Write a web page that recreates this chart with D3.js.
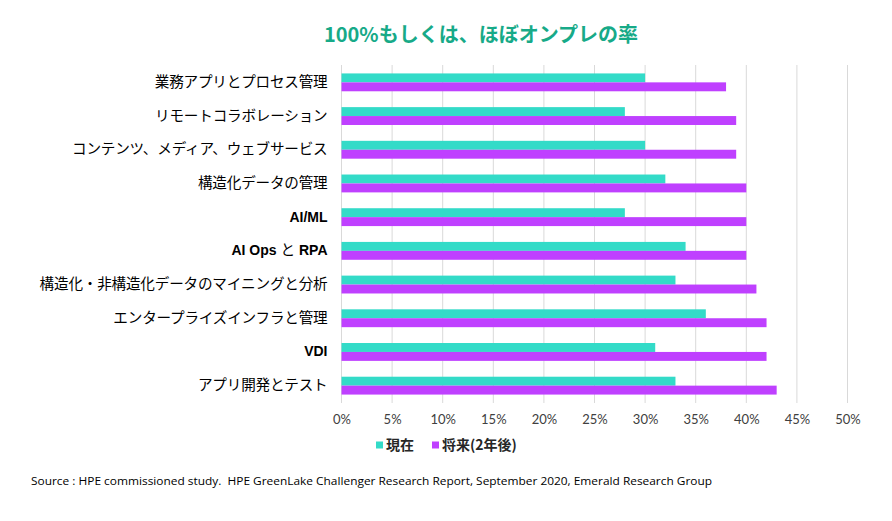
<!DOCTYPE html>
<html><head><meta charset="utf-8">
<script src="https://cdn.jsdelivr.net/npm/d3@7"></script>
<style>body{margin:0;background:#fff}</style>
</head><body>
<svg id="c" width="892" height="521"></svg>
<script>
const categories = ["業務アプリとプロセス管理","リモートコラボレーション","コンテンツ、メディア、ウェブサービス","構造化データの管理","AI/ML","AI Ops と RPA","構造化・非構造化データのマイニングと分析","エンタープライズインフラと管理","VDI","アプリ開発とテスト"];
const current = [30,28,30,32,28,34,33,36,31,33];
const future = [38,39,39,40,40,40,41,42,42,43];
const seriesNames = ["現在","将来(2年後)"];
const colors = ["#33DBC8","#BF40FF"];
const xTicks = [0,5,10,15,20,25,30,35,40,45,50];
const boldLatin = new Set(["AI/ML","VDI"]);

const svg = d3.select("#c");
const m = {left:341.5, right:847.5, top:65, bottom:403};
const x = d3.scaleLinear().domain([0,50]).range([m.left,m.right]);
const y = d3.scaleBand().domain(categories).range([m.top,m.bottom]).paddingInner(0.47).paddingOuter(0.25);
const sub = d3.scaleBand().domain([0,1]).range([0,y.bandwidth()]);

// grid
svg.append("g").selectAll("line").data(xTicks).join("line")
  .attr("x1",d=>x(d)).attr("x2",d=>x(d)).attr("y1",m.top).attr("y2",m.bottom)
  .attr("stroke","#d9d9d9").attr("stroke-width",1);

// x axis labels
const xAxis = d3.axisBottom(x).tickValues(xTicks).tickFormat(d=>d+"%").tickSize(0).tickPadding(12);
const gx = svg.append("g").attr("transform",`translate(0,${m.bottom})`).call(xAxis);
gx.select(".domain").remove();
gx.selectAll("text").attr("font-family","Lato, 'Open Sans', sans-serif").attr("font-size",13).attr("fill","#404040");

// bars
const rows = categories.map((c,i)=>({c, vals:[current[i],future[i]]}));
const g = svg.append("g");
rows.forEach(r=>{
  r.vals.forEach((v,j)=>{
    g.append("rect").attr("x",x(0)).attr("y",y(r.c)+sub(j))
      .attr("width",x(v)-x(0)).attr("height",sub.bandwidth()).attr("fill",colors[j]);
  });
});

// category labels
const yAxis = d3.axisLeft(y).tickSize(0).tickPadding(14);
const gy = svg.append("g").attr("transform",`translate(${m.left},0)`).call(yAxis);
gy.select(".domain").remove();
gy.selectAll("text").each(function(d){
  const t = d3.select(this);
  t.attr("font-size",14.6).attr("fill","#000");
  if (boldLatin.has(d)) {
    t.attr("font-family","'Liberation Sans', Arial, sans-serif").attr("font-weight","bold").attr("font-size",14);
  } else if (d === "AI Ops と RPA") {
    t.text(null).attr("font-size",14);
    t.append("tspan").attr("font-family","'Liberation Sans', Arial, sans-serif").attr("font-weight","bold").text("AI Ops ");
    t.append("tspan").attr("font-family","'Noto Sans CJK JP', sans-serif").attr("font-size",14.6).text("と");
    t.append("tspan").attr("font-family","'Liberation Sans', Arial, sans-serif").attr("font-weight","bold").text(" RPA");
  } else {
    t.attr("font-family","'Noto Sans CJK JP', sans-serif").attr("letter-spacing","-0.2");
  }
});

// title
svg.append("text").attr("x",481).attr("y",42).attr("text-anchor","middle")
  .attr("font-family","'Noto Sans CJK JP', sans-serif").attr("font-weight","bold")
  .attr("font-size",20).attr("fill","#17AA88").text("100%もしくは、ほぼオンプレの率");

// legend
const leg = svg.append("g").attr("transform","translate(376,445)");
const legX = [0,56];
seriesNames.forEach((n,i)=>{
  leg.append("rect").attr("x",legX[i]).attr("y",-3.5).attr("width",7).attr("height",7).attr("fill",colors[i]);
  leg.append("text").attr("x",legX[i]+10).attr("y",0).attr("dy","0.35em")
    .attr("font-family","'Noto Sans CJK JP', sans-serif").attr("font-weight","bold")
    .attr("font-size",14).attr("fill","#262626").text(n);
});

// source
svg.append("text").attr("x",31).attr("y",485)
  .attr("font-family","'Open Sans', sans-serif").attr("font-size",11.5).attr("fill","#000")
  .attr("textLength",681).attr("lengthAdjust","spacingAndGlyphs")
  .text("Source : HPE commissioned study.\u00a0 HPE GreenLake Challenger Research Report, September 2020, Emerald Research Group");
</script>
</body></html>
